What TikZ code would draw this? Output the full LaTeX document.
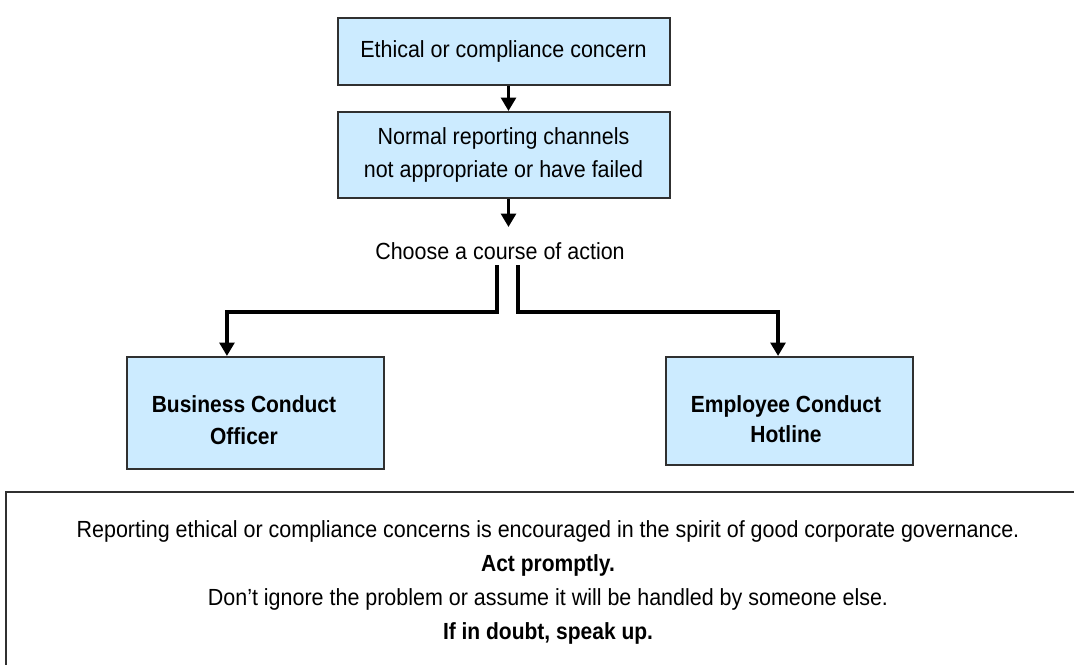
\documentclass[tikz,border=0pt]{standalone}
\usepackage{fontspec}
\setmainfont{Liberation Sans}
\newfontfamily\condfont[FakeStretch=0.92]{Liberation Sans}
\newfontfamily\condbold[FakeStretch=0.90]{Liberation Sans Bold}
\usetikzlibrary{arrows.meta}
\definecolor{boxfill}{HTML}{CCEBFF}
\definecolor{boxline}{HTML}{303030}
\tikzset{
  flowbox/.style={draw=boxline, line width=1.5pt, fill=boxfill, inner sep=0pt, align=center},
  conn/.style={line width=2.6pt, -{Triangle[length=10pt,width=11pt]}},
  txt/.style={font=\condfont\fontsize{17.5pt}{24.5pt}\selectfont, align=center, inner sep=1pt},
  btxt/.style={font=\condbold\fontsize{17.5pt}{24pt}\selectfont, align=center, inner sep=1pt},
}
\begin{document}
\begin{tikzpicture}[x=0.75pt,y=-0.75pt]
\clip (0,0) rectangle (1074,664);
\fill[white] (0,0) rectangle (1074,664);
\node[flowbox, minimum width=332*0.75pt, minimum height=67*0.75pt, txt] (b1) at (503.5,51.5) {Ethical or compliance concern};
\node[flowbox, minimum width=332*0.75pt, minimum height=86*0.75pt, txt] (b2) at (503.5,155) {Normal reporting channels\\not appropriate or have failed};
\node[txt] (ch) at (500,251) {Choose a course of action};
\node[flowbox, minimum width=257*0.75pt, minimum height=112*0.75pt] (b3) at (255.5,413) {};
\node[btxt] (t3) at (244,420) {Business Conduct\\Officer};
\node[flowbox, minimum width=247*0.75pt, minimum height=108*0.75pt] (b4) at (789.5,411) {};
\node[btxt, font=\condbold\fontsize{17.5pt}{22.5pt}\selectfont] (t4) at (786,419) {Employee Conduct\\Hotline};
\draw[conn] ([xshift=3.75pt]b1.south) -- ([xshift=3.75pt]b2.north);
\draw[conn] ([xshift=3.75pt]b2.south) -- ([xshift=3.75pt,yshift=-21pt]b2.south);
\coordinate (cl) at (497,265);
\coordinate (cr) at (518,265);
\draw[conn] (cl) -- ++(0,47) -| ([xshift=-21.4pt]b3.north);
\draw[conn] (cr) -- ++(0,47) -| ([xshift=-8.6pt]b4.north);
\node[draw=boxline, line width=1.6pt, minimum width=1100*0.75pt, minimum height=200*0.75pt, anchor=north west, inner sep=0pt] (note) at (5,491) {};
\node[txt] (n1) at (548,531) {Reporting ethical or compliance concerns is encouraged in the spirit of good corporate governance.};
\node[btxt] (n2) at (548,565) {Act promptly.};
\node[txt] (n3) at (548,599) {Don’t ignore the problem or assume it will be handled by someone else.};
\node[btxt] (n4) at (548,633) {If in doubt, speak up.};
\end{tikzpicture}
\end{document}
